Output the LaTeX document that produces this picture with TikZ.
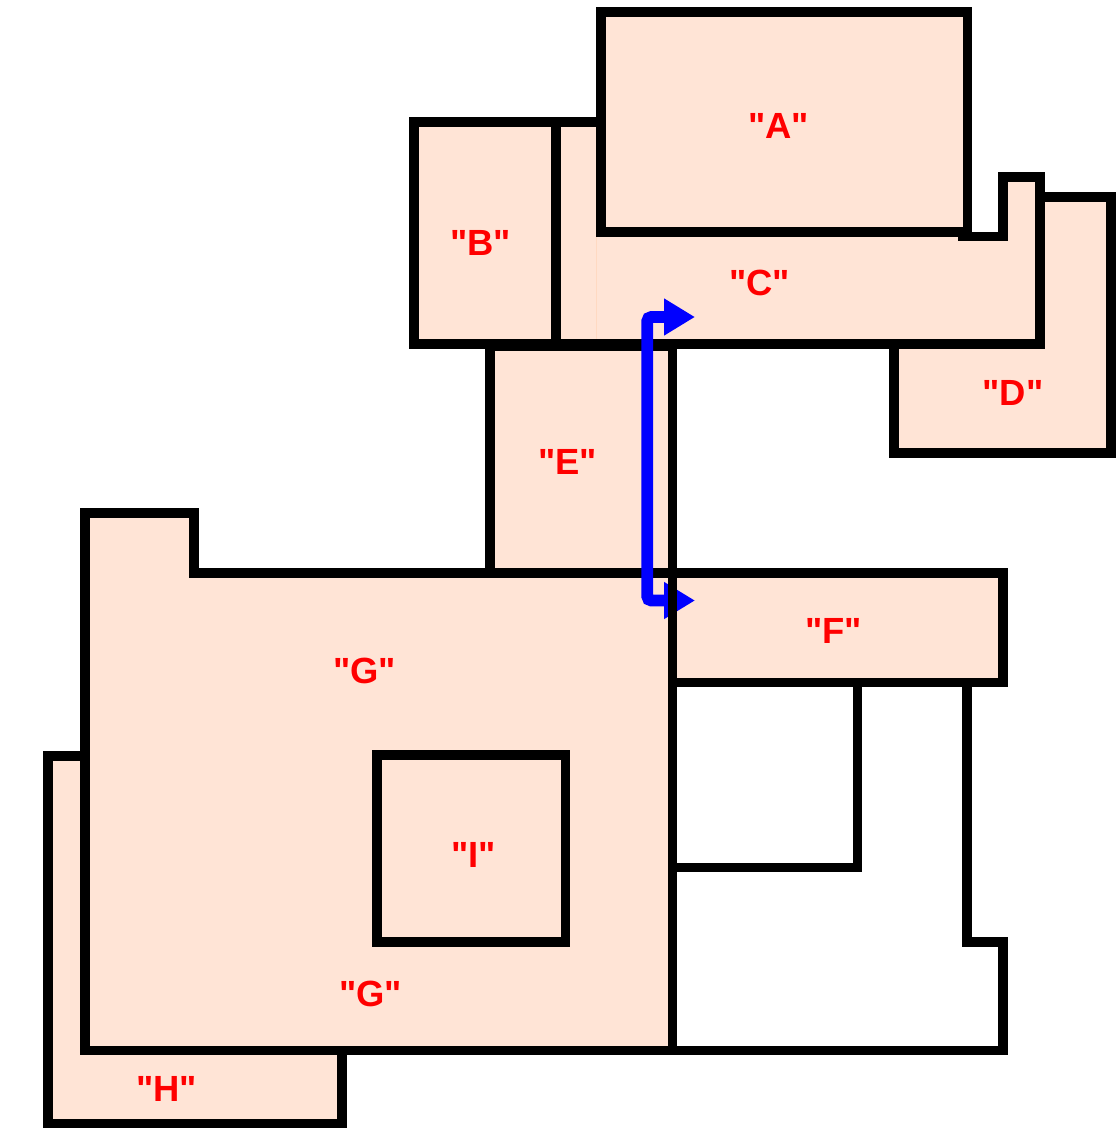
\documentclass[tikz,border=0pt]{standalone}
\usepackage{fontspec}
\newfontfamily\lblfont{Liberation Sans}
\usetikzlibrary{arrows.meta}
\definecolor{roomfill}{HTML}{FFE4D6}
\definecolor{seam}{HTML}{FFD9C2}
\tikzset{
  room/.style={fill=roomfill,draw=black,line width=6.9pt,miter limit=10},
  wall/.style={draw=black,line width=6.9pt},
  paint/.style={fill=roomfill,draw=none},
  lbl/.style={text=red,font=\lblfont\fontsize{27.3}{27.3}\selectfont\bfseries,inner sep=0pt,anchor=center},
  route/.style={draw=blue,line width=8.8pt,rounded corners=3pt,
    {Triangle[length=23.25pt,width=26.25pt]}-{Triangle[length=23.25pt,width=26.25pt]}}
}
\begin{document}
\begin{tikzpicture}[x=0.75pt,y=-0.75pt]
\useasboundingbox (0,0) rectangle (1115,1129);
% D
\draw[room] (1040,197) -- (1111,197) -- (1111,453) -- (894,453) -- (894,344);
% C
\path[paint] (556,122) -- (601,122) -- (601,236.5) -- (1003,236.5) -- (1003,177) -- (1040,177) -- (1040,344) -- (556,344) -- cycle;
\draw[seam,line width=0.5pt] (596.8,237) -- (596.8,340);
\draw[wall] (958,236.5) -- (1003,236.5) -- (1003,177) -- (1040,177) -- (1040,344) -- (556,344) -- (556,122) -- (601,122);
% A, B
\draw[room] (601,12) rectangle (967.5,232);
\draw[room] (414,122) rectangle (556,344);
% E
\draw[room] (490,346.5) rectangle (672.5,573);
% F
\draw[room] (672.5,573) rectangle (1003,682.5);
% H
\draw[room] (85,756) -- (48,756) -- (48,1123.5) -- (342,1123.5) -- (342,1050.5);
% G
\draw[room] (85,513) -- (194,513) -- (194,573) -- (672.5,573) -- (672.5,1050.5) -- (85,1050.5) -- cycle;
% I
\draw[room] (377,755) rectangle (565.5,942);
% white outlines
\draw[wall] (857.5,682) -- (857.5,867.5) -- (672.5,867.5);
\draw[wall] (967,682) -- (967,942) -- (1003,942) -- (1003,1050.5) -- (672.5,1050.5);
% blue route
\coordinate (routeA) at (695,317);
\coordinate (bendA) at (647.3,317);
\coordinate (bendB) at (647.3,600.5);
\coordinate (routeB) at (695,600.5);
\draw[route] (routeA) -- (bendA) -- (bendB) -- (routeB);
% wall passing over the lower arrow head
\coordinate (wallTop) at (672.5,568.5);
\coordinate (wallBot) at (672.5,686.5);
\draw[wall] (wallTop) -- (wallBot);
% labels
\node[lbl] (la) at (778.5,126) {"A"};
\node[lbl] (lb) at (480.5,243) {"B"};
\node[lbl] (lc) at (759.5,283) {"C"};
\node[lbl] (ld) at (1013,393) {"D"};
\node[lbl] (le) at (567.5,462) {"E"};
\node[lbl] (lf) at (833.5,631) {"F"};
\node[lbl] (lg) at (364.5,671) {"G"};
\node[lbl] (lg2) at (370.5,994) {"G"};
\node[lbl] (lh) at (166.5,1089) {"H"};
\node[lbl] (li) at (473.5,855) {"I"};
\end{tikzpicture}
\end{document}
